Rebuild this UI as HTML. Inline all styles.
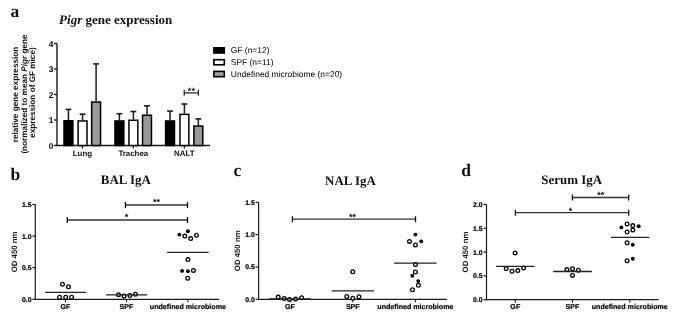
<!DOCTYPE html>
<html><head><meta charset="utf-8"><title>Figure</title>
<style>html,body{margin:0;padding:0;background:#fff;}svg{display:block;filter:grayscale(1) blur(0.3px);text-rendering:geometricPrecision;}</style>
</head><body>
<svg width="673" height="318" viewBox="0 0 673 318">
<rect width="673" height="318" fill="#fff"/>
<text x="10.5" y="16.8" font-family='"Liberation Serif", serif' font-size="17.5" font-weight="bold" text-anchor="start" fill="#111" >a</text>
<text x="59.1" y="23.9" font-family='"Liberation Serif", serif' font-size="13" font-weight="bold" fill="#111"><tspan font-style="italic">Pigr</tspan> gene expression</text>
<text transform="translate(17.8,94.5) rotate(-90)" x="0" y="0" font-family='"Liberation Sans", sans-serif' font-size="8.2" font-weight="bold" text-anchor="middle" fill="#111">relative gene expression</text>
<text transform="translate(26.5,94.0) rotate(-90)" x="0" y="0" font-family='"Liberation Sans", sans-serif' font-size="8.2" font-weight="bold" text-anchor="middle" fill="#111">(normalized to mean <tspan font-style="italic">Pigr</tspan> gene</text>
<text transform="translate(34.6,92.6) rotate(-90)" x="0" y="0" font-family='"Liberation Sans", sans-serif' font-size="8.2" font-weight="bold" text-anchor="middle" fill="#111">expression of GF mice)</text>
<line x1="57.0" y1="43.5" x2="57.0" y2="146.1" stroke="#1a1a1a" stroke-width="1.4"/>
<line x1="56.3" y1="145.5" x2="210" y2="145.5" stroke="#1a1a1a" stroke-width="1.4"/>
<line x1="54" y1="145.5" x2="57.0" y2="145.5" stroke="#1a1a1a" stroke-width="1.4"/>
<text x="53.4" y="148.8" font-family='"Liberation Sans", sans-serif' font-size="8.4" font-weight="bold" text-anchor="end" fill="#000" >0</text>
<line x1="54" y1="120.0" x2="57.0" y2="120.0" stroke="#1a1a1a" stroke-width="1.4"/>
<text x="53.4" y="123.3" font-family='"Liberation Sans", sans-serif' font-size="8.4" font-weight="bold" text-anchor="end" fill="#000" >1</text>
<line x1="54" y1="94.5" x2="57.0" y2="94.5" stroke="#1a1a1a" stroke-width="1.4"/>
<text x="53.4" y="97.8" font-family='"Liberation Sans", sans-serif' font-size="8.4" font-weight="bold" text-anchor="end" fill="#000" >2</text>
<line x1="54" y1="69.0" x2="57.0" y2="69.0" stroke="#1a1a1a" stroke-width="1.4"/>
<text x="53.4" y="72.3" font-family='"Liberation Sans", sans-serif' font-size="8.4" font-weight="bold" text-anchor="end" fill="#000" >3</text>
<line x1="54" y1="43.5" x2="57.0" y2="43.5" stroke="#1a1a1a" stroke-width="1.4"/>
<text x="53.4" y="46.8" font-family='"Liberation Sans", sans-serif' font-size="8.4" font-weight="bold" text-anchor="end" fill="#000" >4</text>
<line x1="82.4" y1="145.5" x2="82.4" y2="148.5" stroke="#1a1a1a" stroke-width="1.2"/>
<text x="82.4" y="155.8" font-family='"Liberation Sans", sans-serif' font-size="7.9" font-weight="bold" text-anchor="middle" fill="#111" >Lung</text>
<line x1="133.3" y1="145.5" x2="133.3" y2="148.5" stroke="#1a1a1a" stroke-width="1.2"/>
<text x="133.3" y="155.8" font-family='"Liberation Sans", sans-serif' font-size="7.9" font-weight="bold" text-anchor="middle" fill="#111" >Trachea</text>
<line x1="184.3" y1="145.5" x2="184.3" y2="148.5" stroke="#1a1a1a" stroke-width="1.2"/>
<text x="184.3" y="155.8" font-family='"Liberation Sans", sans-serif' font-size="7.9" font-weight="bold" text-anchor="middle" fill="#111" >NALT</text>
<line x1="68.45" y1="120.0" x2="68.45" y2="109.4" stroke="#1a1a1a" stroke-width="1.5"/>
<line x1="65.55" y1="109.4" x2="71.35000000000001" y2="109.4" stroke="#1a1a1a" stroke-width="1.6"/>
<rect x="64.00" y="120.75" width="8.90" height="24.75" fill="#000" stroke="#000" stroke-width="1.5"/>
<line x1="82.55" y1="120.2" x2="82.55" y2="114.2" stroke="#1a1a1a" stroke-width="1.5"/>
<line x1="79.64999999999999" y1="114.2" x2="85.45" y2="114.2" stroke="#1a1a1a" stroke-width="1.6"/>
<rect x="78.10" y="120.95" width="8.90" height="24.55" fill="#fff" stroke="#000" stroke-width="1.5"/>
<line x1="96.1" y1="101.3" x2="96.1" y2="63.9" stroke="#1a1a1a" stroke-width="1.5"/>
<line x1="93.19999999999999" y1="63.9" x2="99.0" y2="63.9" stroke="#1a1a1a" stroke-width="1.6"/>
<rect x="91.65" y="102.05" width="8.90" height="43.45" fill="#999999" stroke="#000" stroke-width="1.5"/>
<line x1="119.4" y1="120.2" x2="119.4" y2="113.7" stroke="#1a1a1a" stroke-width="1.5"/>
<line x1="116.5" y1="113.7" x2="122.30000000000001" y2="113.7" stroke="#1a1a1a" stroke-width="1.6"/>
<rect x="114.95" y="120.95" width="8.90" height="24.55" fill="#000" stroke="#000" stroke-width="1.5"/>
<line x1="133.4" y1="119.5" x2="133.4" y2="111.5" stroke="#1a1a1a" stroke-width="1.5"/>
<line x1="130.5" y1="111.5" x2="136.3" y2="111.5" stroke="#1a1a1a" stroke-width="1.6"/>
<rect x="128.95" y="120.25" width="8.90" height="25.25" fill="#fff" stroke="#000" stroke-width="1.5"/>
<line x1="147.0" y1="114.5" x2="147.0" y2="105.8" stroke="#1a1a1a" stroke-width="1.5"/>
<line x1="144.1" y1="105.8" x2="149.9" y2="105.8" stroke="#1a1a1a" stroke-width="1.6"/>
<rect x="142.55" y="115.25" width="8.90" height="30.25" fill="#999999" stroke="#000" stroke-width="1.5"/>
<line x1="170.05" y1="120.2" x2="170.05" y2="111.1" stroke="#1a1a1a" stroke-width="1.5"/>
<line x1="167.15" y1="111.1" x2="172.95000000000002" y2="111.1" stroke="#1a1a1a" stroke-width="1.6"/>
<rect x="165.60" y="120.95" width="8.90" height="24.55" fill="#000" stroke="#000" stroke-width="1.5"/>
<line x1="184.4" y1="113.6" x2="184.4" y2="104.0" stroke="#1a1a1a" stroke-width="1.5"/>
<line x1="181.5" y1="104.0" x2="187.3" y2="104.0" stroke="#1a1a1a" stroke-width="1.6"/>
<rect x="179.95" y="114.35" width="8.90" height="31.15" fill="#fff" stroke="#000" stroke-width="1.5"/>
<line x1="198.35" y1="125.3" x2="198.35" y2="118.9" stroke="#1a1a1a" stroke-width="1.5"/>
<line x1="195.45" y1="118.9" x2="201.25" y2="118.9" stroke="#1a1a1a" stroke-width="1.6"/>
<rect x="193.90" y="126.05" width="8.90" height="19.45" fill="#999999" stroke="#000" stroke-width="1.5"/>
<line x1="184.2" y1="92.9" x2="198.4" y2="92.9" stroke="#1a1a1a" stroke-width="1.2"/>
<line x1="184.2" y1="89.8" x2="184.2" y2="95.7" stroke="#1a1a1a" stroke-width="1.2"/>
<line x1="198.4" y1="89.8" x2="198.4" y2="95.7" stroke="#1a1a1a" stroke-width="1.2"/>
<text x="191.4" y="93.8" font-family='"Liberation Sans", sans-serif' font-size="9.2" font-weight="bold" text-anchor="middle" fill="#111" >**</text>
<rect x="213.9" y="47.8" width="10.40" height="5.20" fill="#000" stroke="#000" stroke-width="1.6"/>
<text x="230.8" y="53.4" font-family='"Liberation Sans", sans-serif' font-size="8.45" font-weight="normal" text-anchor="start" fill="#000" >GF (n=12)</text>
<rect x="213.9" y="59.699999999999996" width="10.40" height="5.10" fill="#fff" stroke="#000" stroke-width="1.6"/>
<text x="230.8" y="65.2" font-family='"Liberation Sans", sans-serif' font-size="8.45" font-weight="normal" text-anchor="start" fill="#000" >SPF (n=11)</text>
<rect x="213.9" y="71.39999999999999" width="10.40" height="5.30" fill="#a0a0a0" stroke="#000" stroke-width="1.6"/>
<text x="230.8" y="76.9" font-family='"Liberation Sans", sans-serif' font-size="8.45" font-weight="normal" text-anchor="start" fill="#000" >Undefined microbiome (n=20)</text>
<text x="10.5" y="179.7" font-family='"Liberation Serif", serif' font-size="17.5" font-weight="bold" text-anchor="start" fill="#111" >b</text>
<text x="100.8" y="184.4" font-family='"Liberation Serif", serif' font-size="12.95" font-weight="bold" text-anchor="start" fill="#111" >BAL IgA</text>
<text transform="translate(16.7,251.90) rotate(-90)" font-family='"Liberation Sans", sans-serif' font-size="7.8" font-weight="bold" text-anchor="middle" fill="#111">OD 450 nm</text>
<line x1="35.3" y1="204.5" x2="35.3" y2="299.8" stroke="#1a1a1a" stroke-width="1.2"/>
<line x1="34.8" y1="299.3" x2="218.9" y2="299.3" stroke="#1a1a1a" stroke-width="1.2"/>
<line x1="32.3" y1="299.3" x2="35.3" y2="299.3" stroke="#1a1a1a" stroke-width="1.2"/>
<text x="31.499999999999996" y="301.75" font-family='"Liberation Sans", sans-serif' font-size="6.9" font-weight="bold" text-anchor="end" fill="#000" stroke="#000" stroke-width="0.2">0.0</text>
<line x1="32.3" y1="267.7" x2="35.3" y2="267.7" stroke="#1a1a1a" stroke-width="1.2"/>
<text x="31.499999999999996" y="270.15" font-family='"Liberation Sans", sans-serif' font-size="6.9" font-weight="bold" text-anchor="end" fill="#000" stroke="#000" stroke-width="0.2">0.5</text>
<line x1="32.3" y1="236.1" x2="35.3" y2="236.1" stroke="#1a1a1a" stroke-width="1.2"/>
<text x="31.499999999999996" y="238.54999999999998" font-family='"Liberation Sans", sans-serif' font-size="6.9" font-weight="bold" text-anchor="end" fill="#000" stroke="#000" stroke-width="0.2">1.0</text>
<line x1="32.3" y1="204.5" x2="35.3" y2="204.5" stroke="#1a1a1a" stroke-width="1.2"/>
<text x="31.499999999999996" y="206.95" font-family='"Liberation Sans", sans-serif' font-size="6.9" font-weight="bold" text-anchor="end" fill="#000" stroke="#000" stroke-width="0.2">1.5</text>
<line x1="65.5" y1="299.3" x2="65.5" y2="302.3" stroke="#1a1a1a" stroke-width="1.1"/>
<text x="65.5" y="309.4" font-family='"Liberation Sans", sans-serif' font-size="7.1" font-weight="bold" text-anchor="middle" fill="#000" stroke="#000" stroke-width="0.2">GF</text>
<line x1="126.5" y1="299.3" x2="126.5" y2="302.3" stroke="#1a1a1a" stroke-width="1.1"/>
<text x="126.5" y="309.4" font-family='"Liberation Sans", sans-serif' font-size="7.1" font-weight="bold" text-anchor="middle" fill="#000" stroke="#000" stroke-width="0.2">SPF</text>
<line x1="187.9" y1="299.3" x2="187.9" y2="302.3" stroke="#1a1a1a" stroke-width="1.1"/>
<text x="187.9" y="309.4" font-family='"Liberation Sans", sans-serif' font-size="7.1" font-weight="bold" text-anchor="middle" fill="#000" stroke="#000" stroke-width="0.2">undefined microbiome</text>
<line x1="125.4" y1="205.0" x2="187.5" y2="205.0" stroke="#333" stroke-width="1.3"/>
<line x1="125.4" y1="202.0" x2="125.4" y2="208.0" stroke="#111" stroke-width="1.3"/>
<line x1="187.5" y1="202.0" x2="187.5" y2="208.0" stroke="#111" stroke-width="1.3"/>
<text x="156.4" y="205.2" font-family='"Liberation Sans", sans-serif' font-size="9" font-weight="bold" text-anchor="middle" fill="#111" >**</text>
<line x1="67.3" y1="220.0" x2="187.5" y2="220.0" stroke="#333" stroke-width="1.3"/>
<line x1="67.3" y1="217.0" x2="67.3" y2="223.0" stroke="#111" stroke-width="1.3"/>
<line x1="187.5" y1="217.0" x2="187.5" y2="223.0" stroke="#111" stroke-width="1.3"/>
<text x="126.4" y="219.9" font-family='"Liberation Sans", sans-serif' font-size="9" font-weight="bold" text-anchor="middle" fill="#111" >*</text>
<circle cx="59.6" cy="297.2" r="1.85" fill="#fff" stroke="#000" stroke-width="1.3"/>
<circle cx="65.7" cy="297.2" r="1.85" fill="#fff" stroke="#000" stroke-width="1.3"/>
<circle cx="71.6" cy="297.2" r="1.85" fill="#fff" stroke="#000" stroke-width="1.3"/>
<circle cx="62.5" cy="284.2" r="1.85" fill="#fff" stroke="#000" stroke-width="1.3"/>
<circle cx="68.5" cy="286.8" r="1.85" fill="#fff" stroke="#000" stroke-width="1.3"/>
<circle cx="118.5" cy="294.7" r="1.85" fill="#fff" stroke="#000" stroke-width="1.3"/>
<circle cx="124.0" cy="296.0" r="1.85" fill="#fff" stroke="#000" stroke-width="1.3"/>
<circle cx="129.9" cy="295.5" r="1.85" fill="#fff" stroke="#000" stroke-width="1.3"/>
<circle cx="135.4" cy="294.3" r="1.85" fill="#fff" stroke="#000" stroke-width="1.3"/>
<circle cx="179.3" cy="234.6" r="1.95" fill="#000"/>
<circle cx="184.8" cy="236.1" r="1.85" fill="#fff" stroke="#000" stroke-width="1.3"/>
<circle cx="187.9" cy="231.3" r="1.95" fill="#000"/>
<circle cx="190.7" cy="238.6" r="1.85" fill="#fff" stroke="#000" stroke-width="1.3"/>
<circle cx="196.5" cy="235.3" r="1.85" fill="#fff" stroke="#000" stroke-width="1.3"/>
<circle cx="187.9" cy="259.6" r="1.85" fill="#fff" stroke="#000" stroke-width="1.3"/>
<circle cx="182.1" cy="270.9" r="1.95" fill="#000"/>
<circle cx="187.9" cy="271.2" r="1.95" fill="#000"/>
<circle cx="193.4" cy="270.4" r="1.85" fill="#fff" stroke="#000" stroke-width="1.3"/>
<circle cx="187.7" cy="278.3" r="1.85" fill="#fff" stroke="#000" stroke-width="1.3"/>
<line x1="45.1" y1="292.4" x2="86.1" y2="292.4" stroke="#222" stroke-width="1.3"/>
<line x1="106.1" y1="294.9" x2="147.2" y2="294.9" stroke="#222" stroke-width="1.3"/>
<line x1="167.2" y1="252.4" x2="208.6" y2="252.4" stroke="#222" stroke-width="1.3"/>
<text x="233.5" y="176.0" font-family='"Liberation Serif", serif' font-size="17.5" font-weight="bold" text-anchor="start" fill="#111" >c</text>
<text x="325.1" y="185.2" font-family='"Liberation Serif", serif' font-size="12.95" font-weight="bold" text-anchor="start" fill="#111" >NAL IgA</text>
<text transform="translate(240.2,250.80) rotate(-90)" font-family='"Liberation Sans", sans-serif' font-size="7.8" font-weight="bold" text-anchor="middle" fill="#111">OD 450 nm</text>
<line x1="258.6" y1="202.3" x2="258.6" y2="299.8" stroke="#1a1a1a" stroke-width="1.2"/>
<line x1="258.1" y1="299.3" x2="446.8" y2="299.3" stroke="#1a1a1a" stroke-width="1.2"/>
<line x1="255.60000000000002" y1="299.3" x2="258.6" y2="299.3" stroke="#1a1a1a" stroke-width="1.2"/>
<text x="254.8" y="301.75" font-family='"Liberation Sans", sans-serif' font-size="6.9" font-weight="bold" text-anchor="end" fill="#000" stroke="#000" stroke-width="0.2">0.0</text>
<line x1="255.60000000000002" y1="266.9666666666667" x2="258.6" y2="266.9666666666667" stroke="#1a1a1a" stroke-width="1.2"/>
<text x="254.8" y="269.4166666666667" font-family='"Liberation Sans", sans-serif' font-size="6.9" font-weight="bold" text-anchor="end" fill="#000" stroke="#000" stroke-width="0.2">0.5</text>
<line x1="255.60000000000002" y1="234.63333333333333" x2="258.6" y2="234.63333333333333" stroke="#1a1a1a" stroke-width="1.2"/>
<text x="254.8" y="237.08333333333331" font-family='"Liberation Sans", sans-serif' font-size="6.9" font-weight="bold" text-anchor="end" fill="#000" stroke="#000" stroke-width="0.2">1.0</text>
<line x1="255.60000000000002" y1="202.3" x2="258.6" y2="202.3" stroke="#1a1a1a" stroke-width="1.2"/>
<text x="254.8" y="204.75" font-family='"Liberation Sans", sans-serif' font-size="6.9" font-weight="bold" text-anchor="end" fill="#000" stroke="#000" stroke-width="0.2">1.5</text>
<line x1="290.0" y1="299.3" x2="290.0" y2="302.3" stroke="#1a1a1a" stroke-width="1.1"/>
<text x="290.0" y="309.4" font-family='"Liberation Sans", sans-serif' font-size="7.1" font-weight="bold" text-anchor="middle" fill="#000" stroke="#000" stroke-width="0.2">GF</text>
<line x1="352.8" y1="299.3" x2="352.8" y2="302.3" stroke="#1a1a1a" stroke-width="1.1"/>
<text x="352.8" y="309.4" font-family='"Liberation Sans", sans-serif' font-size="7.1" font-weight="bold" text-anchor="middle" fill="#000" stroke="#000" stroke-width="0.2">SPF</text>
<line x1="415.4" y1="299.3" x2="415.4" y2="302.3" stroke="#1a1a1a" stroke-width="1.1"/>
<text x="415.4" y="309.4" font-family='"Liberation Sans", sans-serif' font-size="7.1" font-weight="bold" text-anchor="middle" fill="#000" stroke="#000" stroke-width="0.2">undefined microbiome</text>
<line x1="292.4" y1="219.2" x2="415.5" y2="219.2" stroke="#333" stroke-width="1.3"/>
<line x1="292.4" y1="216.2" x2="292.4" y2="222.2" stroke="#111" stroke-width="1.3"/>
<line x1="415.5" y1="216.2" x2="415.5" y2="222.2" stroke="#111" stroke-width="1.3"/>
<text x="352.6" y="219.8" font-family='"Liberation Sans", sans-serif' font-size="9" font-weight="bold" text-anchor="middle" fill="#111" >**</text>
<circle cx="278.2" cy="297.1" r="1.85" fill="#fff" stroke="#000" stroke-width="1.3"/>
<circle cx="284.3" cy="298.4" r="1.85" fill="#fff" stroke="#000" stroke-width="1.3"/>
<circle cx="289.5" cy="299.4" r="1.85" fill="#fff" stroke="#000" stroke-width="1.3"/>
<circle cx="295.6" cy="299.0" r="1.85" fill="#fff" stroke="#000" stroke-width="1.3"/>
<circle cx="301.6" cy="297.8" r="1.85" fill="#fff" stroke="#000" stroke-width="1.3"/>
<circle cx="346.8" cy="296.5" r="1.85" fill="#fff" stroke="#000" stroke-width="1.3"/>
<circle cx="352.8" cy="298.3" r="1.85" fill="#fff" stroke="#000" stroke-width="1.3"/>
<circle cx="358.9" cy="296.8" r="1.85" fill="#fff" stroke="#000" stroke-width="1.3"/>
<circle cx="352.8" cy="271.7" r="1.85" fill="#fff" stroke="#000" stroke-width="1.3"/>
<circle cx="415.4" cy="234.6" r="1.95" fill="#000"/>
<circle cx="409.5" cy="241.4" r="1.85" fill="#fff" stroke="#000" stroke-width="1.3"/>
<circle cx="421.2" cy="241.4" r="1.95" fill="#000"/>
<circle cx="415.4" cy="244.9" r="1.85" fill="#fff" stroke="#000" stroke-width="1.3"/>
<circle cx="415.4" cy="264.4" r="1.85" fill="#fff" stroke="#000" stroke-width="1.3"/>
<circle cx="415.4" cy="272.0" r="1.85" fill="#fff" stroke="#000" stroke-width="1.3"/>
<circle cx="412.3" cy="275.8" r="1.95" fill="#000"/>
<circle cx="418.2" cy="281.1" r="1.95" fill="#000"/>
<circle cx="418.4" cy="285.2" r="1.85" fill="#fff" stroke="#000" stroke-width="1.3"/>
<circle cx="412.5" cy="289.7" r="1.85" fill="#fff" stroke="#000" stroke-width="1.3"/>
<line x1="269.2" y1="298.8" x2="310.7" y2="298.8" stroke="#222" stroke-width="1.3"/>
<line x1="331.6" y1="290.9" x2="374.0" y2="290.9" stroke="#222" stroke-width="1.3"/>
<line x1="394.1" y1="263.1" x2="436.6" y2="263.1" stroke="#222" stroke-width="1.3"/>
<text x="461.2" y="176.0" font-family='"Liberation Serif", serif' font-size="17.5" font-weight="bold" text-anchor="start" fill="#111" >d</text>
<text x="541.3" y="183.7" font-family='"Liberation Serif", serif' font-size="12.95" font-weight="bold" text-anchor="start" fill="#111" >Serum IgA</text>
<text transform="translate(468.2,252.05) rotate(-90)" font-family='"Liberation Sans", sans-serif' font-size="7.8" font-weight="bold" text-anchor="middle" fill="#111">OD 450 nm</text>
<line x1="486.5" y1="204.4" x2="486.5" y2="300.2" stroke="#1a1a1a" stroke-width="1.2"/>
<line x1="486.0" y1="299.7" x2="658.6" y2="299.7" stroke="#1a1a1a" stroke-width="1.2"/>
<line x1="483.5" y1="299.7" x2="486.5" y2="299.7" stroke="#1a1a1a" stroke-width="1.2"/>
<text x="482.7" y="302.15" font-family='"Liberation Sans", sans-serif' font-size="6.9" font-weight="bold" text-anchor="end" fill="#000" stroke="#000" stroke-width="0.2">0.0</text>
<line x1="483.5" y1="275.875" x2="486.5" y2="275.875" stroke="#1a1a1a" stroke-width="1.2"/>
<text x="482.7" y="278.325" font-family='"Liberation Sans", sans-serif' font-size="6.9" font-weight="bold" text-anchor="end" fill="#000" stroke="#000" stroke-width="0.2">0.5</text>
<line x1="483.5" y1="252.05" x2="486.5" y2="252.05" stroke="#1a1a1a" stroke-width="1.2"/>
<text x="482.7" y="254.5" font-family='"Liberation Sans", sans-serif' font-size="6.9" font-weight="bold" text-anchor="end" fill="#000" stroke="#000" stroke-width="0.2">1.0</text>
<line x1="483.5" y1="228.225" x2="486.5" y2="228.225" stroke="#1a1a1a" stroke-width="1.2"/>
<text x="482.7" y="230.67499999999998" font-family='"Liberation Sans", sans-serif' font-size="6.9" font-weight="bold" text-anchor="end" fill="#000" stroke="#000" stroke-width="0.2">1.5</text>
<line x1="483.5" y1="204.4" x2="486.5" y2="204.4" stroke="#1a1a1a" stroke-width="1.2"/>
<text x="482.7" y="206.85" font-family='"Liberation Sans", sans-serif' font-size="6.9" font-weight="bold" text-anchor="end" fill="#000" stroke="#000" stroke-width="0.2">2.0</text>
<line x1="515.3" y1="299.7" x2="515.3" y2="302.7" stroke="#1a1a1a" stroke-width="1.1"/>
<text x="515.3" y="309.4" font-family='"Liberation Sans", sans-serif' font-size="7.1" font-weight="bold" text-anchor="middle" fill="#000" stroke="#000" stroke-width="0.2">GF</text>
<line x1="572.5" y1="299.7" x2="572.5" y2="302.7" stroke="#1a1a1a" stroke-width="1.1"/>
<text x="572.5" y="309.4" font-family='"Liberation Sans", sans-serif' font-size="7.1" font-weight="bold" text-anchor="middle" fill="#000" stroke="#000" stroke-width="0.2">SPF</text>
<line x1="629.8" y1="299.7" x2="629.8" y2="302.7" stroke="#1a1a1a" stroke-width="1.1"/>
<text x="629.8" y="309.4" font-family='"Liberation Sans", sans-serif' font-size="7.1" font-weight="bold" text-anchor="middle" fill="#000" stroke="#000" stroke-width="0.2">undefined microbiome</text>
<line x1="572.4" y1="197.5" x2="628.7" y2="197.5" stroke="#333" stroke-width="1.3"/>
<line x1="572.4" y1="194.5" x2="572.4" y2="200.5" stroke="#111" stroke-width="1.3"/>
<line x1="628.7" y1="194.5" x2="628.7" y2="200.5" stroke="#111" stroke-width="1.3"/>
<text x="600.8" y="198.2" font-family='"Liberation Sans", sans-serif' font-size="9" font-weight="bold" text-anchor="middle" fill="#111" >**</text>
<line x1="515.4" y1="212.7" x2="628.7" y2="212.7" stroke="#333" stroke-width="1.3"/>
<line x1="515.4" y1="209.7" x2="515.4" y2="215.7" stroke="#111" stroke-width="1.3"/>
<line x1="628.7" y1="209.7" x2="628.7" y2="215.7" stroke="#111" stroke-width="1.3"/>
<text x="570.4" y="213.7" font-family='"Liberation Sans", sans-serif' font-size="9" font-weight="bold" text-anchor="middle" fill="#111" >*</text>
<circle cx="515.1" cy="252.9" r="1.85" fill="#fff" stroke="#000" stroke-width="1.3"/>
<circle cx="506.2" cy="268.6" r="1.85" fill="#fff" stroke="#000" stroke-width="1.3"/>
<circle cx="512.0" cy="271.2" r="1.85" fill="#fff" stroke="#000" stroke-width="1.3"/>
<circle cx="517.8" cy="270.6" r="1.85" fill="#fff" stroke="#000" stroke-width="1.3"/>
<circle cx="523.6" cy="268.1" r="1.85" fill="#fff" stroke="#000" stroke-width="1.3"/>
<circle cx="566.9" cy="269.6" r="1.85" fill="#fff" stroke="#000" stroke-width="1.3"/>
<circle cx="572.5" cy="268.8" r="1.85" fill="#fff" stroke="#000" stroke-width="1.3"/>
<circle cx="578.3" cy="270.3" r="1.85" fill="#fff" stroke="#000" stroke-width="1.3"/>
<circle cx="572.5" cy="275.4" r="1.85" fill="#fff" stroke="#000" stroke-width="1.3"/>
<circle cx="621.4" cy="227.4" r="1.95" fill="#000"/>
<circle cx="627.1" cy="223.9" r="1.85" fill="#fff" stroke="#000" stroke-width="1.3"/>
<circle cx="632.8" cy="225.6" r="1.85" fill="#fff" stroke="#000" stroke-width="1.3"/>
<circle cx="638.7" cy="226.3" r="1.95" fill="#000"/>
<circle cx="632.8" cy="229.9" r="1.85" fill="#fff" stroke="#000" stroke-width="1.3"/>
<circle cx="627.1" cy="232.0" r="1.85" fill="#fff" stroke="#000" stroke-width="1.3"/>
<circle cx="627.1" cy="242.8" r="1.85" fill="#fff" stroke="#000" stroke-width="1.3"/>
<circle cx="632.8" cy="244.7" r="1.95" fill="#000"/>
<circle cx="627.1" cy="260.7" r="1.85" fill="#fff" stroke="#000" stroke-width="1.3"/>
<circle cx="632.8" cy="258.7" r="1.95" fill="#000"/>
<line x1="496.1" y1="266.4" x2="534.4" y2="266.4" stroke="#222" stroke-width="1.3"/>
<line x1="553.1" y1="271.5" x2="591.9" y2="271.5" stroke="#222" stroke-width="1.3"/>
<line x1="611.1" y1="237.4" x2="649.3" y2="237.4" stroke="#222" stroke-width="1.3"/>
</svg>
</body></html>
